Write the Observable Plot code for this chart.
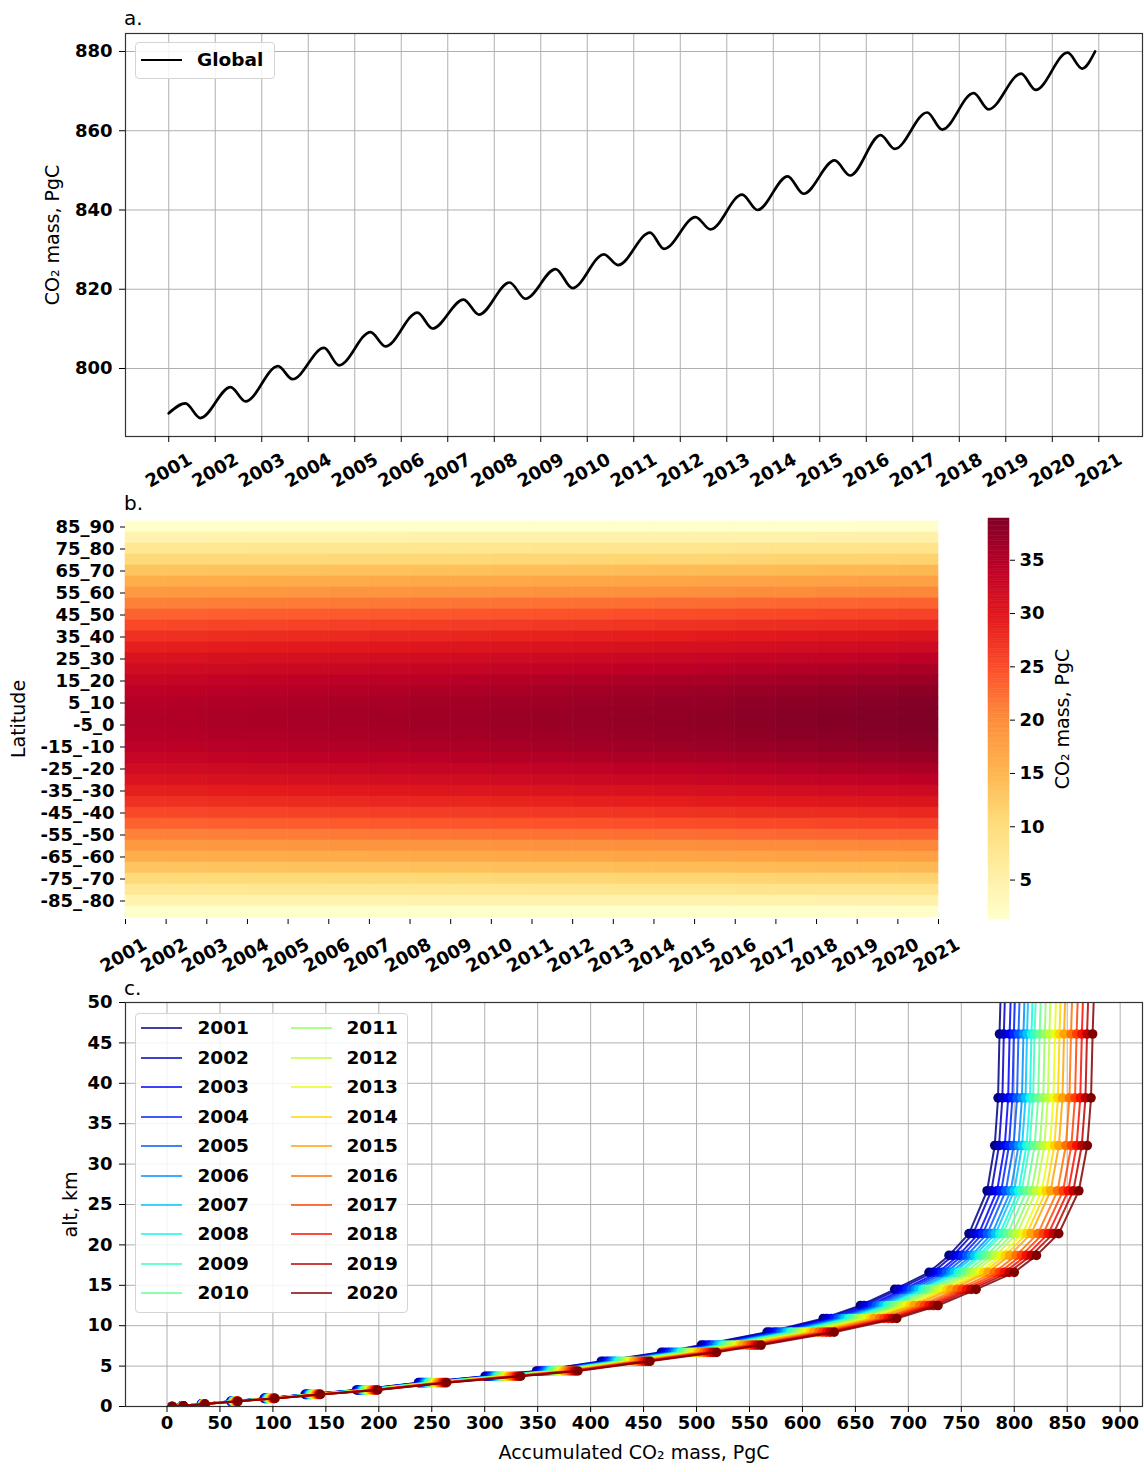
<!DOCTYPE html>
<html><head><meta charset="utf-8">
<script src="https://cdn.jsdelivr.net/npm/d3@7"></script>
<script src="https://cdn.jsdelivr.net/npm/@observablehq/plot@0.6"></script>
<style>
html,body{margin:0;padding:0;background:#fff;overflow:hidden;}
#root{position:relative;width:1144px;height:1472px;font-family:"DejaVu Sans",sans-serif;color:#000;}
.pane{position:absolute;}
.pane svg{display:block;max-width:none;}
.plabel{position:absolute;font-size:20px;line-height:20px;white-space:nowrap;}
.legend{position:absolute;background:rgba(255,255,255,0.85);border:1px solid #d4d4d4;border-radius:4px;box-sizing:border-box;}
.lg-line{position:absolute;height:0;}
.lg-text{position:absolute;font-weight:bold;font-size:18.5px;line-height:20px;white-space:nowrap;}
</style></head>
<body><div id="root"></div>
<script>
// ---------- DATA ----------
// Panel a: global CO2 mass, key points (start, seasonal peaks/troughs, end)
const globalYear = [2001.00, 2001.36, 2001.68, 2002.33, 2002.65, 2003.35, 2003.66, 2004.34, 2004.66,
  2005.34, 2005.66, 2006.35, 2006.67, 2007.34, 2007.67, 2008.33, 2008.67, 2009.32, 2009.68,
  2010.36, 2010.66, 2011.35, 2011.65, 2012.33, 2012.65, 2013.33, 2013.66, 2014.31, 2014.65,
  2015.32, 2015.65, 2016.31, 2016.61, 2017.31, 2017.63, 2018.31, 2018.63, 2019.33, 2019.64,
  2020.33, 2020.64, 2020.92];
const globalMass = [788.7, 791.2, 787.5, 795.3, 791.7, 800.6, 797.3, 805.2, 800.8,
  809.2, 805.6, 814.1, 810.1, 817.4, 813.6, 821.7, 817.6, 825.1, 820.3,
  828.8, 826.1, 834.3, 830.2, 838.2, 835.1, 843.9, 840.0, 848.5, 844.1,
  852.5, 848.7, 858.9, 855.4, 864.6, 860.3, 869.5, 865.4, 874.4, 870.3,
  879.7, 875.7, 880.0];

// Years and annual mean global mass
const years = [2001,2002,2003,2004,2005,2006,2007,2008,2009,2010,2011,2012,2013,2014,2015,2016,2017,2018,2019,2020];
const annualMass = [789.4, 793.5, 799.0, 803.0, 807.4, 812.1, 815.5, 819.7, 822.7, 827.5,
  832.3, 836.7, 842.0, 846.3, 850.6, 857.2, 862.5, 867.5, 872.4, 877.7];

// Panel b: latitude bands (north to south) and CO2 mass per band in 2001 (PgC)
const latBands = ["85_90","80_85","75_80","70_75","65_70","60_65","55_60","50_55","45_50","40_45",
  "35_40","30_35","25_30","20_25","15_20","10_15","5_10","0_5","-5_0","-10_-5","-15_-10","-20_-15",
  "-25_-20","-30_-25","-35_-30","-40_-35","-45_-40","-50_-45","-55_-50","-60_-55","-65_-60",
  "-70_-65","-75_-70","-80_-75","-85_-80","-90_-85"];
const bandMass2001 = [1.3, 4.4, 7.4, 10.3, 13.2, 15.9, 18.5, 21.0, 23.3, 25.4,
  27.4, 29.1, 30.7, 32.0, 33.2, 34.1, 34.7, 35.0, 35.0, 34.7, 34.1, 33.2,
  32.0, 30.7, 29.1, 27.4, 25.4, 23.3, 21.0, 18.5, 15.9, 13.2, 10.3, 7.4, 4.4, 1.3];
const latTickLabels = ["85_90","75_80","65_70","55_60","45_50","35_40","25_30","15_20","5_10","-5_0",
  "-15_-10","-25_-20","-35_-30","-45_-40","-55_-50","-65_-60","-75_-70","-85_-80"];
const cbarTicks = [5,10,15,20,25,30,35];

// Panel c: model level altitudes (km) and accumulated CO2 mass in 2020 (PgC)
const levelAlt  = [0, 0.08, 0.3, 0.65, 1.0, 1.5, 2.05, 2.95, 3.75, 4.4, 5.6, 6.7, 7.6, 9.2,
  10.9, 12.5, 14.5, 16.6, 18.7, 21.4, 26.7, 32.3, 38.2, 46.1, 56];
const mass2020  = [5, 15.5, 36, 67, 102, 145, 199, 264, 334, 388, 456, 519, 561, 630,
  689, 728, 764, 800, 821, 842, 861, 869, 872.5, 874, 876.5];

// Tick values
const yearTicks = [2001,2002,2003,2004,2005,2006,2007,2008,2009,2010,2011,2012,2013,2014,2015,2016,2017,2018,2019,2020,2021];
const massTicksA = [800, 820, 840, 860, 880];
const accTicks = [0,50,100,150,200,250,300,350,400,450,500,550,600,650,700,750,800,850,900];
const altTicks = [0,5,10,15,20,25,30,35,40,45,50];

// ---------- helpers ----------
const root = document.getElementById("root");
function place(el, left, top) {
  const d = document.createElement("div");
  d.className = "pane"; d.style.left = left + "px"; d.style.top = top + "px";
  d.appendChild(el); root.appendChild(d); return d;
}
function label(txt, left, top) {
  const d = document.createElement("div");
  d.className = "plabel"; d.textContent = txt;
  d.style.left = left + "px"; d.style.top = top + "px"; root.appendChild(d);
}
const baseStyle = {fontFamily: "DejaVu Sans", fontSize: "18px", fontWeight: "bold",
  background: "transparent", color: "black", overflow: "visible"};
const gridStyle = {stroke: "#b0b0b0", strokeOpacity: 1, strokeWidth: 1};

// matplotlib "jet"
function seg(pts, t) {
  for (let i = 1; i < pts.length; i++) {
    if (t <= pts[i][0]) {
      const [t0, v0] = pts[i-1], [t1, v1] = pts[i];
      return v0 + (v1 - v0) * (t - t0) / (t1 - t0);
    }
  }
  return pts[pts.length-1][1];
}
function jet(t) {
  const r = seg([[0,0],[0.35,0],[0.66,1],[0.89,1],[1,0.5]], t);
  const g = seg([[0,0],[0.125,0],[0.375,1],[0.64,1],[0.91,0],[1,0]], t);
  const b = seg([[0,0.5],[0.11,1],[0.34,1],[0.65,0],[1,0]], t);
  return d3.rgb(r*255, g*255, b*255).formatHex();
}
const yearColors = years.map((y, i) => jet(i / (years.length - 1)));

// ---------- Panel a ----------
const globalPts = globalYear.map((t, i) => ({t, v: globalMass[i]}));
const plotA = Plot.plot({
  width: 1144, height: 500,
  marginLeft: 125, marginRight: 2, marginTop: 33, marginBottom: 64,
  style: baseStyle,
  x: {domain: [2000.07, 2021.94]},
  y: {domain: [782.84, 884.54]},
  marks: [
    Plot.gridX(yearTicks, gridStyle),
    Plot.gridY(massTicksA, gridStyle),
    Plot.line(globalPts, {x: "t", y: "v", curve: "monotone-x", stroke: "black", strokeWidth: 2.7}),
    Plot.frame({stroke: "#333", strokeWidth: 1.2}),
    Plot.axisY(massTicksA, {anchor: "left", tickSize: 6, tickPadding: 7, fontSize: 18, label: null}),
    Plot.axisX(yearTicks, {anchor: "bottom", tickSize: 6, tickFormat: () => "", label: null}),
    Plot.text(yearTicks, {x: d => d, text: d => String(d), frameAnchor: "bottom", dy: 34, rotate: -30,
      textAnchor: "middle", lineAnchor: "middle", fontSize: 18}),
    Plot.text(["CO₂ mass, PgC"], {text: d => d, frameAnchor: "left", dx: -73, rotate: -90,
      fontSize: 19, fontWeight: "normal", textAnchor: "middle", lineAnchor: "middle"})
  ]
});
place(plotA, 0, 0);
label("a.", 124, 8);

// legend a
(function(){
  const lg = document.createElement("div");
  lg.className = "legend";
  Object.assign(lg.style, {left: "135px", top: "42px", width: "140px", height: "37px"});
  root.appendChild(lg);
  const ln = document.createElement("div");
  ln.className = "lg-line";
  Object.assign(ln.style, {left: "141px", top: "59px", width: "41px", borderTop: "2.6px solid black"});
  root.appendChild(ln);
  const tx = document.createElement("div");
  tx.className = "lg-text"; tx.textContent = "Global";
  Object.assign(tx.style, {left: "197px", top: "50px"});
  root.appendChild(tx);
})();

// ---------- Panel b ----------
const cells = [];
years.forEach((y, j) => latBands.forEach((b, i) => {
  cells.push({x1: y, x2: y + 1, band: b, value: bandMass2001[i] * annualMass[j] / annualMass[0]});
}));
const ext = d3.extent(cells, d => d.value);
const ylorrd = ["#ffffcc","#ffeda0","#fed976","#feb24c","#fd8d3c","#fc4e2a","#e31a1c","#bd0026","#800026"];
const colorOpts = {type: "linear", domain: ylorrd.map((c, k) => ext[0] + k * (ext[1] - ext[0]) / 8),
  range: ylorrd, interpolate: "rgb"};

const plotB = Plot.plot({
  width: 1144, height: 500,
  marginLeft: 125, marginRight: 206, marginTop: 38, marginBottom: 61,
  style: baseStyle,
  x: {domain: [2001, 2021]},
  y: {type: "band", domain: latBands, padding: 0},
  color: colorOpts,
  marks: [
    Plot.barX(cells, {x1: "x1", x2: "x2", y: "band", fill: "value", stroke: "value", strokeWidth: 0.6, inset: 0}),
    Plot.axisY(latTickLabels, {anchor: "left", tickSize: 5, tickPadding: 6, fontSize: 18, label: null}),
    Plot.axisX(yearTicks, {anchor: "bottom", tickSize: 5, tickFormat: () => "", label: null}),
    Plot.text(yearTicks, {x: d => d, text: d => String(d), frameAnchor: "bottom", dx: -2, dy: 36, rotate: -30,
      textAnchor: "middle", lineAnchor: "middle", fontSize: 18}),
    Plot.text(["Latitude"], {text: d => d, frameAnchor: "left", dx: -107, rotate: -90,
      fontSize: 19, fontWeight: "normal", textAnchor: "middle", lineAnchor: "middle"})
  ]
});
place(plotB, 0, 480);
label("b.", 124, 493);

// colorbar
const nSteps = 160;
const steps = d3.range(nSteps).map(k => ({
  a: ext[0] + k * (ext[1] - ext[0]) / nSteps,
  b: ext[0] + (k + 1) * (ext[1] - ext[0]) / nSteps
}));
const plotCB = Plot.plot({
  width: 184, height: 500,
  marginLeft: 28, marginRight: 135, marginTop: 38, marginBottom: 61,
  style: baseStyle,
  x: {domain: [0, 1], axis: null},
  y: {domain: ext},
  color: colorOpts,
  marks: [
    Plot.rect(steps, {x1: 0, x2: 1, y1: "a", y2: "b", fill: d => (d.a + d.b) / 2, stroke: d => (d.a + d.b) / 2, strokeWidth: 0.5}),
    Plot.axisY(cbarTicks, {anchor: "right", tickSize: 5, tickPadding: 5, fontSize: 18, label: null}),
    Plot.text(["CO₂ mass, PgC"], {text: d => d, frameAnchor: "right", dx: 53, rotate: -90,
      fontSize: 19, fontWeight: "normal", textAnchor: "middle", lineAnchor: "middle"})
  ]
});
place(plotCB, 960, 480);

// ---------- Panel c ----------
const profiles = years.map((y, j) => levelAlt.map((alt, k) => ({
  year: y, alt, m: mass2020[k] * annualMass[j] / annualMass[years.length - 1]
})));
const lineMarks = [];
profiles.forEach((p, j) => {
  lineMarks.push(Plot.line(p, {x: "m", y: "alt", stroke: yearColors[j], strokeWidth: 2, strokeOpacity: 0.85, clip: true}));
  lineMarks.push(Plot.dot(p.filter(d => d.alt <= 50), {x: "m", y: "alt", r: 4.8, fill: yearColors[j], stroke: "none", clip: true}));
});
const plotC = Plot.plot({
  width: 1144, height: 492,
  marginLeft: 125, marginRight: 2, marginTop: 22, marginBottom: 66,
  style: baseStyle,
  x: {domain: [-39.2, 921.1]},
  y: {domain: [0, 50]},
  marks: [
    Plot.gridX(accTicks, gridStyle),
    Plot.gridY(altTicks, gridStyle),
    ...lineMarks,
    Plot.frame({stroke: "#333", strokeWidth: 1.2}),
    Plot.axisX(accTicks, {anchor: "bottom", tickSize: 6, tickPadding: 4, fontSize: 18, label: null}),
    Plot.axisY(altTicks, {anchor: "left", tickSize: 6, tickPadding: 7, fontSize: 18, label: null}),
    Plot.text(["Accumulated CO₂ mass, PgC"], {text: d => d, frameAnchor: "bottom", dy: 46,
      fontSize: 19, fontWeight: "normal", textAnchor: "middle", lineAnchor: "middle"}),
    Plot.text(["alt, km"], {text: d => d, frameAnchor: "left", dx: -55, rotate: -90,
      fontSize: 19, fontWeight: "normal", textAnchor: "middle", lineAnchor: "middle"})
  ]
});
place(plotC, 0, 980);
label("c.", 124, 978);

// legend c
(function(){
  const lg = document.createElement("div");
  lg.className = "legend";
  Object.assign(lg.style, {left: "135px", top: "1013px", width: "273px", height: "300px"});
  root.appendChild(lg);
  years.forEach((y, j) => {
    const col = Math.floor(j / 10), row = j % 10;
    const cy = 1028.3 + row * 29.45;
    const lx = col === 0 ? 141 : 290.7;
    const tx0 = col === 0 ? 197.5 : 346.5;
    const ln = document.createElement("div");
    ln.className = "lg-line";
    Object.assign(ln.style, {left: lx + "px", top: (cy - 1) + "px", width: "41px",
      borderTop: "2.2px solid " + yearColors[j], opacity: 0.75});
    root.appendChild(ln);
    const tx = document.createElement("div");
    tx.className = "lg-text"; tx.textContent = String(y);
    Object.assign(tx.style, {left: tx0 + "px", top: (cy - 10) + "px"});
    root.appendChild(tx);
  });
})();
</script></body></html>
